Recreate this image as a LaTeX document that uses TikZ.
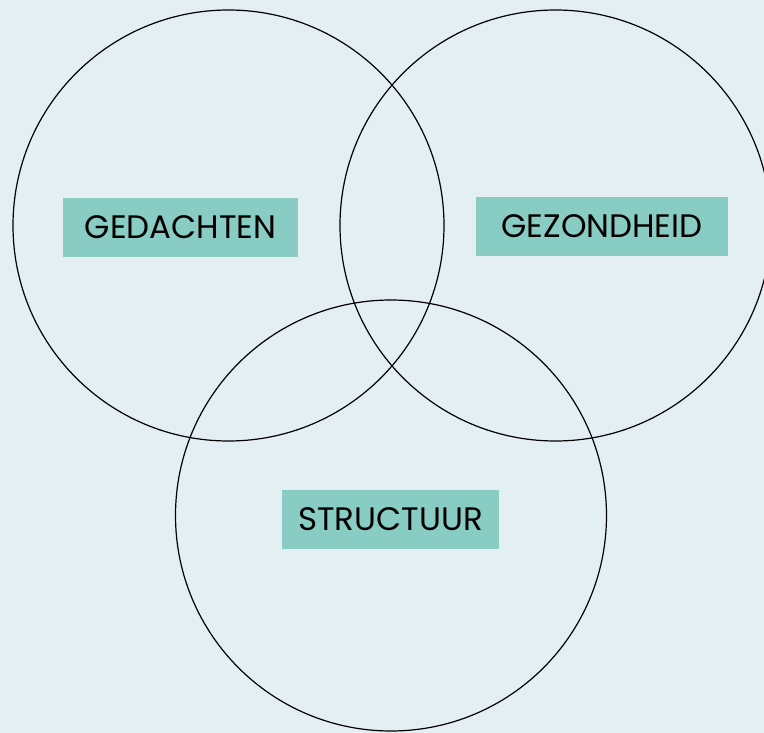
\documentclass[tikz,border=0pt]{standalone}
\usepackage{fontspec}
\setmainfont{Poppins}
\definecolor{bgc}{RGB}{228,239,243}
\definecolor{boxc}{RGB}{136,204,196}
\begin{document}
\begin{tikzpicture}[x=1pt,y=-1pt,
  circ/.style={draw=black,line width=1.2pt},
  lbl/.style={fill=boxc,inner sep=0pt,font=\fontsize{32.5}{36}\selectfont,text=black}]
\fill[bgc] (0,0) rectangle (764,733);
\useasboundingbox (0,0) rectangle (764,733);
\draw[circ] (228.5,225.5) circle (215.5);
\draw[circ] (555.5,225.5) circle (215.5);
\draw[circ] (391,515.5) circle (215.5);
\node[lbl,minimum width=235pt,minimum height=59pt] (ged) at (180.5,227.5) {GEDACHTEN};
\node[lbl,minimum width=252pt,minimum height=59pt] (gez) at (602,226.5) {GEZONDHEID};
\node[lbl,minimum width=217pt,minimum height=59pt] (str) at (390.5,519.5) {STRUCTUUR};
\end{tikzpicture}
\end{document}
